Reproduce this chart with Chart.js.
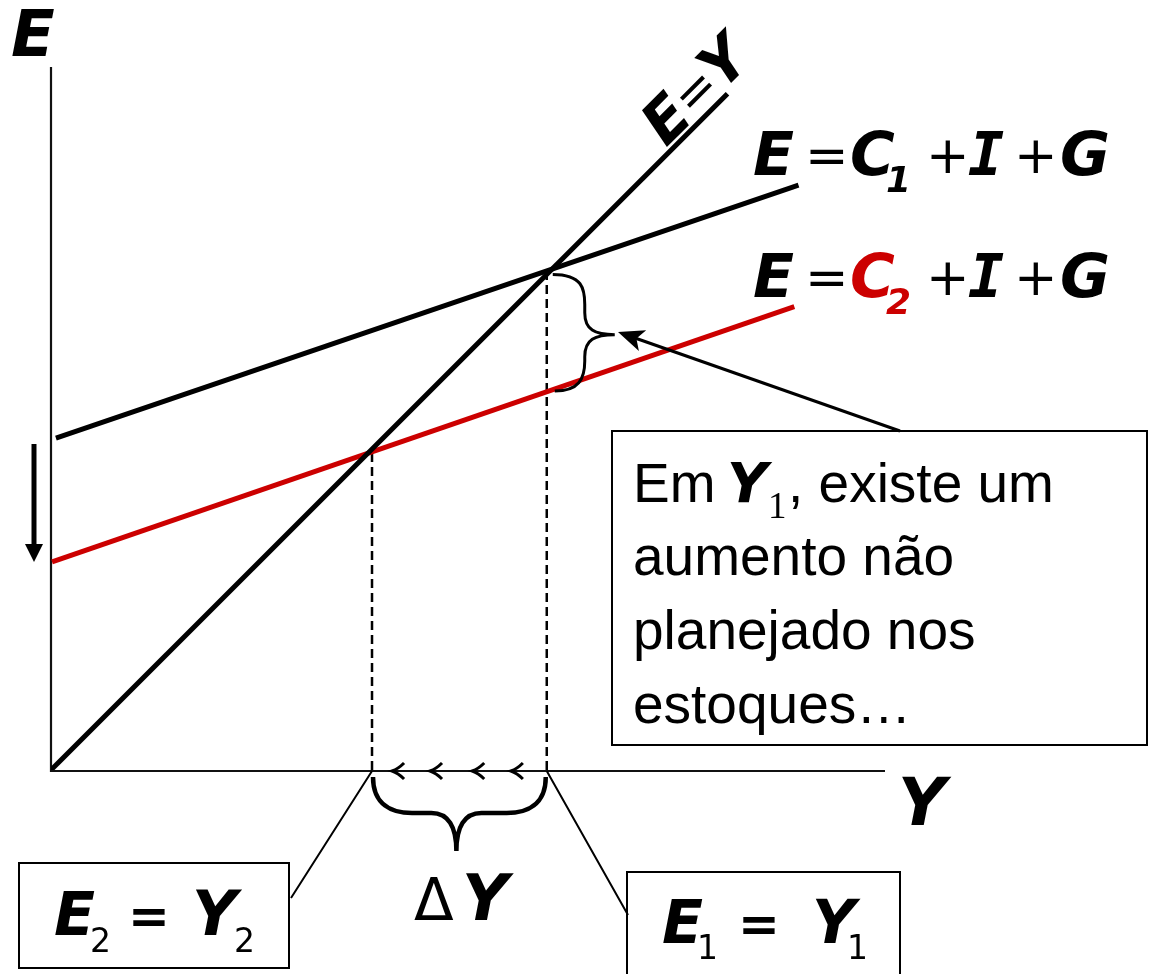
<!DOCTYPE html>
<html>
<head>
<meta charset="utf-8">
<script src="https://cdn.jsdelivr.net/npm/chart.js@4"></script>
<style>
  body { margin: 0; background: #fff; }
  canvas { display: block; }
</style>
</head>
<body>
<canvas id="cross" width="1149" height="974"></canvas>
<script>
// Keynesian cross: fall in consumption C1 -> C2
const lineY = [0, 96.2];          // E = Y (45 degree line)
const c1Income = [0.7, 106.3];    // E = C1 + I + G
const c1Spend = [47.2, 83.2];
const c2Income = [0.15, 105.7];   // E = C2 + I + G
const c2Spend = [29.6, 65.9];
const equilibriumY = [70.5, 45.65];   // Y1, Y2
const spendAtY1OnC2 = 53.9;
const shiftArrows = [48.5, 53.9, 59.9, 65.4];  // small arrows on the Y axis

const RED = '#cc0000';
const BI = 'italic bold ';
const DV = '"DejaVu Sans"';
const MONO = '"DejaVu Sans Mono"';

function pts(xs, ys) {
  return xs.map((x, i) => ({ x: x, y: ys[i] }));
}

function drawText(ctx, s, x, y, font, color) {
  ctx.font = font;
  ctx.fillStyle = color || '#000';
  ctx.fillText(s, x, y);
}

function arrowHead(ctx, tipX, tipY, angle, len, half) {
  ctx.save();
  ctx.translate(tipX, tipY);
  ctx.rotate(angle);
  ctx.beginPath();
  ctx.moveTo(0, 0);
  ctx.lineTo(len, -half);
  ctx.lineTo(len * 0.75, 0);
  ctx.lineTo(len, half);
  ctx.closePath();
  ctx.fill();
  ctx.restore();
}

const diagram = {
  id: 'diagram',
  beforeDatasetsDraw(chart) {
    const ctx = chart.ctx, a = chart.chartArea;
    ctx.save();
    ctx.strokeStyle = '#111';
    ctx.lineWidth = 2.2;
    ctx.beginPath();
    ctx.moveTo(a.left, a.top);
    ctx.lineTo(a.left, a.bottom + 1);
    ctx.lineTo(a.right, a.bottom + 1);
    ctx.stroke();
    ctx.restore();
  },
  afterDraw(chart) {
    const ctx = chart.ctx, sx = chart.scales.x, sy = chart.scales.y;
    const x1 = sx.getPixelForValue(equilibriumY[0]);
    const x2 = sx.getPixelForValue(equilibriumY[1]);
    const yTop = sy.getPixelForValue(equilibriumY[0]);
    const yLow = sy.getPixelForValue(spendAtY1OnC2);
    const y0 = sy.getPixelForValue(0) + 1;
    ctx.save();
    ctx.textBaseline = 'alphabetic';
    ctx.textAlign = 'left';
    ctx.fillStyle = '#000';
    ctx.strokeStyle = '#000';
    ctx.lineCap = 'butt';

    // small arrows along the income axis
    ctx.lineWidth = 3;
    shiftArrows.forEach(v => {
      const px = sx.getPixelForValue(v);
      ctx.beginPath();
      ctx.moveTo(px + 12, y0 - 8);
      ctx.quadraticCurveTo(px + 6, y0 - 2, px, y0);
      ctx.quadraticCurveTo(px + 6, y0 + 2, px + 12, y0 + 8);
      ctx.stroke();
    });

    // down arrow on the left
    ctx.lineWidth = 5;
    ctx.beginPath();
    ctx.moveTo(34, 444);
    ctx.lineTo(34, 546);
    ctx.stroke();
    ctx.beginPath();
    ctx.moveTo(25, 544);
    ctx.lineTo(43, 544);
    ctx.lineTo(34, 562);
    ctx.closePath();
    ctx.fill();

    // brace between the two spending lines at Y1
    const bx = x1 + 6, mid = (yTop + yLow) / 2 + 2;
    ctx.lineWidth = 3;
    ctx.beginPath();
    ctx.moveTo(bx, yTop);
    ctx.bezierCurveTo(bx + 30, yTop, bx + 32, yTop + 15, bx + 32, yTop + 30);
    ctx.lineTo(bx + 32, mid - 22);
    ctx.bezierCurveTo(bx + 32, mid - 5, bx + 42, mid, bx + 62, mid);
    ctx.bezierCurveTo(bx + 42, mid, bx + 32, mid + 5, bx + 32, mid + 22);
    ctx.lineTo(bx + 32, yLow - 30);
    ctx.bezierCurveTo(bx + 32, yLow - 12, bx + 26, yLow, bx + 2, yLow);
    ctx.stroke();

    // arrow from the note to the brace
    ctx.lineWidth = 3;
    ctx.beginPath();
    ctx.moveTo(900, 431);
    ctx.lineTo(635, 338);
    ctx.stroke();
    arrowHead(ctx, 618, 332, Math.atan2(431 - 332, 900 - 618), 26, 11);

    // brace under the axis between Y2 and Y1
    const by = y0 + 6, cx = (x1 + x2) / 2 - 3;
    ctx.lineWidth = 4.5;
    ctx.beginPath();
    ctx.moveTo(x2 + 1, by);
    ctx.bezierCurveTo(x2 + 1, by + 28, x2 + 20, by + 36, x2 + 40, by + 36);
    ctx.lineTo(cx - 25, by + 36);
    ctx.bezierCurveTo(cx - 8, by + 36, cx, by + 50, cx, by + 74);
    ctx.bezierCurveTo(cx, by + 50, cx + 8, by + 36, cx + 25, by + 36);
    ctx.lineTo(x1 - 40, by + 36);
    ctx.bezierCurveTo(x1 - 20, by + 36, x1 - 1, by + 28, x1 - 1, by);
    ctx.stroke();

    // leader lines to the boxes
    ctx.lineWidth = 2;
    ctx.beginPath();
    ctx.moveTo(x2, y0);
    ctx.lineTo(291, 898);
    ctx.moveTo(x1, y0);
    ctx.lineTo(628, 915);
    ctx.stroke();

    // boxes
    ctx.strokeRect(19, 863, 270, 105);
    ctx.strokeRect(627, 872, 273, 110);
    ctx.strokeRect(612, 431, 535, 314);

    // axis titles
    drawText(ctx, 'E', 11, 56, BI + '64px ' + DV);
    drawText(ctx, 'Y', 898, 825, BI + '66px ' + DV);

    // E = Y along the 45 degree line
    ctx.save();
    ctx.translate(666, 148);
    ctx.rotate(-Math.PI / 4);
    drawText(ctx, 'E', 0, 0, BI + '60px ' + DV);
    drawText(ctx, '=', 40, -3, '50px ' + DV);
    drawText(ctx, 'Y', 80, 0, BI + '60px ' + DV);
    ctx.restore();

    // curve labels
    [[175, '1', '#000'], [297, '2', RED]].forEach(r => {
      const b = r[0];
      drawText(ctx, 'E', 753, b, BI + '60px ' + DV);
      drawText(ctx, '=', 805, b - 2, '52px ' + DV);
      drawText(ctx, 'C', 850, b, BI + '61px ' + DV, r[2]);
      drawText(ctx, r[1], 886, b + 17, BI + '36px ' + DV, r[2]);
      drawText(ctx, '+', 926, b - 2, '52px ' + DV);
      drawText(ctx, 'I', 968, b, BI + '60px ' + MONO);
      drawText(ctx, '+', 1014, b - 2, '52px ' + DV);
      drawText(ctx, 'G', 1060, b, BI + '61px ' + DV);
    });

    // equilibrium boxes
    drawText(ctx, 'E', 54, 935, BI + '60px ' + DV);
    drawText(ctx, '2', 90, 952, '33px ' + DV);
    drawText(ctx, '=', 128, 933, 'bold 50px ' + DV);
    drawText(ctx, 'Y', 192, 935, BI + '62px ' + DV);
    drawText(ctx, '2', 234, 952, '33px ' + DV);

    drawText(ctx, 'E', 662, 943, BI + '60px ' + DV);
    drawText(ctx, '1', 697, 959, '33px ' + DV);
    drawText(ctx, '=', 738, 941, 'bold 50px ' + DV);
    drawText(ctx, 'Y', 812, 943, BI + '60px ' + DV);
    drawText(ctx, '1', 847, 959, '33px ' + DV);

    // Delta Y
    drawText(ctx, '\u0394', 414, 920, '58px ' + DV);
    drawText(ctx, 'Y', 462, 920, BI + '64px ' + DV);

    // note
    const LS = '55px "Liberation Sans"';
    drawText(ctx, 'Em', 633, 502, LS);
    drawText(ctx, 'Y', 727, 502, BI + '56px ' + DV);
    drawText(ctx, '1', 768, 518, '37px "Liberation Serif"');
    drawText(ctx, ', existe um', 788, 502, LS);
    drawText(ctx, 'aumento não', 633, 575, LS);
    drawText(ctx, 'planejado nos', 633, 649, LS);
    drawText(ctx, 'estoques…', 633, 723, LS);
    ctx.restore();
  }
};

const ctx = document.getElementById('cross').getContext('2d');
new Chart(ctx, {
  type: 'scatter',
  data: {
    datasets: [
      { label: 'E = Y', data: pts(lineY, lineY), borderColor: '#000', borderWidth: 5 },
      { label: 'E = C1 + I + G', data: pts(c1Income, c1Spend), borderColor: '#000', borderWidth: 5 },
      { label: 'E = C2 + I + G', data: pts(c2Income, c2Spend), borderColor: RED, borderWidth: 5 },
      { label: 'Y1', data: pts([equilibriumY[0], equilibriumY[0]], [0, equilibriumY[0]]),
        borderColor: '#000', borderWidth: 2.5, borderDash: [9, 5] },
      { label: 'Y2', data: pts([equilibriumY[1], equilibriumY[1]], [0, equilibriumY[1]]),
        borderColor: '#000', borderWidth: 2.5, borderDash: [9, 5] }
    ]
  },
  options: {
    responsive: false,
    animation: false,
    showLine: true,
    layout: { padding: { left: 51, right: 264, top: 67, bottom: 204 } },
    elements: { point: { radius: 0, hoverRadius: 0 }, line: { tension: 0 } },
    scales: {
      x: { type: 'linear', display: false, min: 0, max: 118.6 },
      y: { type: 'linear', display: false, min: 0, max: 100 }
    },
    plugins: { legend: { display: false }, tooltip: { enabled: false } }
  },
  plugins: [diagram]
});
</script>
</body>
</html>
